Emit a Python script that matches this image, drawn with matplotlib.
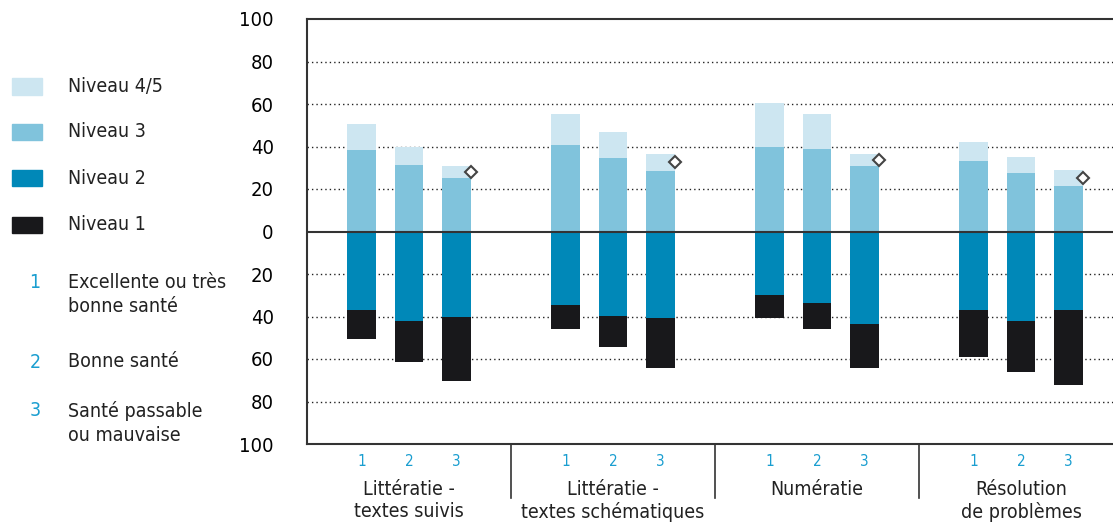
import numpy as np
import matplotlib
matplotlib.use("Agg")
import matplotlib.pyplot as plt
import matplotlib.transforms as mtransforms
from matplotlib.patches import Rectangle

plt.rcParams['font.family'] = ['DejaVu Sans']
plt.rcParams['font.stretch'] = 'condensed'

# data (percent), 3 health groups per domain
domains = ['Littératie -\ntextes suivis', 'Littératie -\ntextes schématiques',
           'Numératie', 'Résolution\nde problèmes']
health_codes = ['1', '2', '3']
niveau45 = [12.3, 8.4, 5.6, 14.5, 12.2, 8.4, 20.7, 16.1, 6.0, 9.0, 7.3, 7.5]
niveau3 = [38.2, 31.4, 25.1, 40.6, 34.4, 28.3, 39.8, 39.0, 30.7, 33.0, 27.7, 21.4]
niveau2 = [36.9, 42.1, 40.0, 34.6, 39.9, 40.9, 29.9, 33.6, 43.6, 36.9, 42.1, 36.9]
niveau1 = [13.7, 19.2, 30.4, 11.3, 14.5, 23.4, 10.8, 12.3, 20.7, 22.1, 23.8, 35.3]
diamond = [28.0, 32.7, 33.8, 25.1]  # marker on group 3 bars

legend_levels = ['Niveau 4/5', 'Niveau 3', 'Niveau 2', 'Niveau 1']
legend_health = ['Excellente ou très\nbonne santé', 'Bonne santé', 'Santé passable\nou mauvaise']

c45 = '#cde6f1'
c3 = '#80c3dc'
c2 = '#0088b8'
c1 = '#18181b'
blue_txt = '#1a9ed0'
grey = '#333333'

fig = plt.figure(figsize=(11.13, 5.26), dpi=100)
ax = fig.add_axes([307 / 1113, 1 - 444 / 526, 1 - 307 / 1113, 425 / 526])

offsets = np.array([-0.232, 0.0, 0.232])
xpos = np.concatenate([g + 0.5 + offsets for g in range(len(domains))])
w = 0.142

n3 = np.array(niveau3)
n2 = np.array(niveau2)
ax.bar(xpos, n3, w, color=c3, zorder=3)
ax.bar(xpos, niveau45, w, bottom=n3, color=c45, zorder=3)
ax.bar(xpos, -n2, w, color=c2, zorder=3)
ax.bar(xpos, -np.array(niveau1), w, bottom=-n2, color=c1, zorder=3)

# diamonds at the right edge of bar 3
ax.plot(xpos[2::3] + w / 2, diamond, linestyle='none', marker='D', markersize=6.5,
        markerfacecolor='white', markeredgecolor='#444444', markeredgewidth=1.5,
        zorder=5, clip_on=False)

ax.set_xlim(0, 806 / 204)
ax.set_ylim(-100, 100)
yt = np.arange(-100, 101, 20)
ax.set_yticks(yt)
ax.set_yticklabels([str(abs(v)) for v in yt], fontsize=14.5)
ax.tick_params(axis='y', length=0, pad=24)
ax.set_xticks([])

for v in yt:
    if v not in (-100, 0, 100):
        ax.axhline(v, color='#222222', linestyle=(0, (1, 2.2)), linewidth=1.0, zorder=1)
ax.axhline(0, color=grey, linewidth=1.5, zorder=4)

for s in ['left', 'top', 'bottom']:
    ax.spines[s].set_color(grey)
    ax.spines[s].set_linewidth(1.5)
ax.spines['right'].set_visible(False)

trans = mtransforms.blended_transform_factory(ax.transData, ax.transAxes)
for i, x in enumerate(xpos):
    ax.text(x, -0.042, health_codes[i % 3], transform=trans, ha='center', va='center',
            fontsize=11, color=blue_txt)
for g, name in enumerate(domains):
    ax.text(g + 0.5, -0.085, name, transform=trans, ha='center', va='top',
            fontsize=14, color='#222222', linespacing=1.2)
for g in range(1, len(domains)):
    ax.plot([g, g], [-0.003, -0.127], transform=trans, color=grey, linewidth=1.2,
            clip_on=False)

# legend drawn by hand on the left
W, H = 1113.0, 526.0
lev_colors = [c45, c3, c2, c1]
lev_y = [86.5, 132, 178, 225]
for lab, col, y in zip(legend_levels, lev_colors, lev_y):
    fig.patches.append(Rectangle((12 / W, 1 - (y + 8) / H), 30 / W, 16 / H,
                                 transform=fig.transFigure, color=col))
    fig.text(68 / W, 1 - y / H, lab, fontsize=14, va='center', ha='left', color='#222222')

health_y = [283, 362, 411]
for code, lab, y in zip(health_codes, legend_health, health_y):
    fig.text(35 / W, 1 - y / H, code, fontsize=14, va='center', ha='center', color=blue_txt)
    fig.text(68 / W, 1 - (y - 10) / H, lab, fontsize=14, va='top', ha='left',
             color='#222222', linespacing=1.35)

fig.savefig('out.png', dpi=100)
